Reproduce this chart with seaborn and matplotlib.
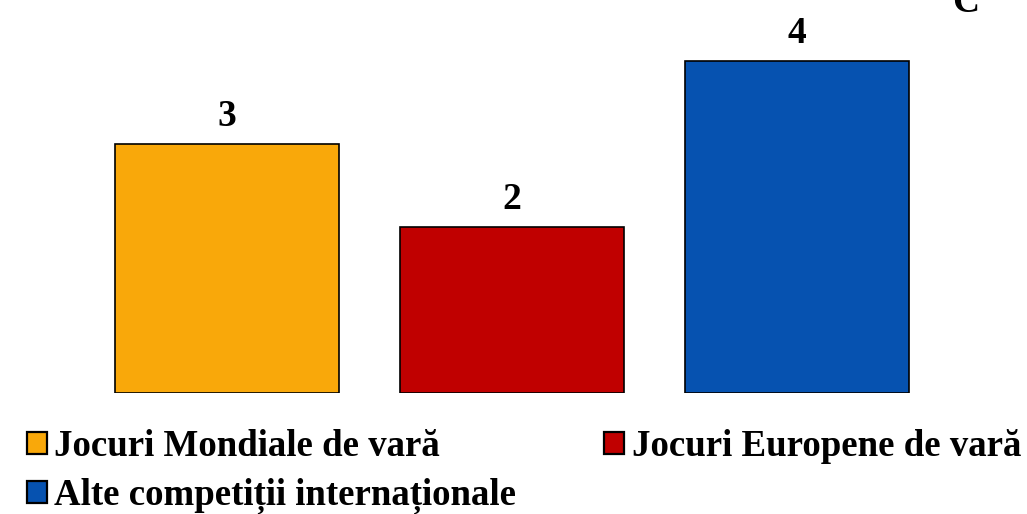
import matplotlib
matplotlib.use("Agg")
import matplotlib.pyplot as plt
import seaborn as sns
import pandas as pd

categories = ["Jocuri Mondiale de vară", "Jocuri Europene de vară", "Alte competiții internaționale"]
values = [3, 2, 4]
colors = ["#F9A80A", "#C00000", "#0652B0"]

sns.set_theme(style="white")
plt.rcParams['font.family'] = ['Liberation Serif', 'DejaVu Serif']
plt.rcParams['text.color'] = 'black'

df = pd.DataFrame({"cat": categories, "val": values})

fig = plt.figure(figsize=(10.27, 5.14), dpi=100)
ax = fig.add_axes([84.5 / 1027, (514 - 393) / 514, (939.5 - 84.5) / 1027, 393 / 514])
sns.barplot(data=df, x="cat", y="val", hue="cat", palette=colors, order=categories,
            hue_order=categories, width=0.786, edgecolor="black", linewidth=1.2,
            dodge=False, legend=True, ax=ax, saturation=1)
ax.set_xlim(-0.5, 2.5)
ax.set_ylim(0, 393 / 83)
for c in ax.containers:
    ax.bar_label(c, labels=[f"{v:.0f}" if v == v else "" for v in c.datavalues],
                 padding=7, fontsize=27, fontweight="bold", color="black")
ax.set_xticks([])
ax.set_yticks([])
ax.set_xlabel("")
ax.set_ylabel("")
for s in ax.spines.values():
    s.set_visible(False)

handles, labels = ax.get_legend_handles_labels()
ax.get_legend().remove()
order = [0, 2, 1]
leg = fig.legend([handles[i] for i in order], [labels[i] for i in order],
                 loc="upper left", bbox_to_anchor=(27 / 1027, 1 - 429 / 514), ncol=2,
                 frameon=False, prop={"family": "Liberation Serif", "weight": "bold", "size": 26.6},
                 handlelength=0.54, handleheight=0.54, handletextpad=0.2,
                 columnspacing=2.38, labelspacing=0.37, borderpad=0, borderaxespad=0,
                 labelcolor="black")
for h in leg.legend_handles:
    h.set_linewidth(1.6)

fig.text(966 / 1027, 1 - 12 / 514, "C", ha="center", va="baseline",
         fontsize=27, fontweight="bold", color="black")

fig.savefig("out.png", dpi=100)
